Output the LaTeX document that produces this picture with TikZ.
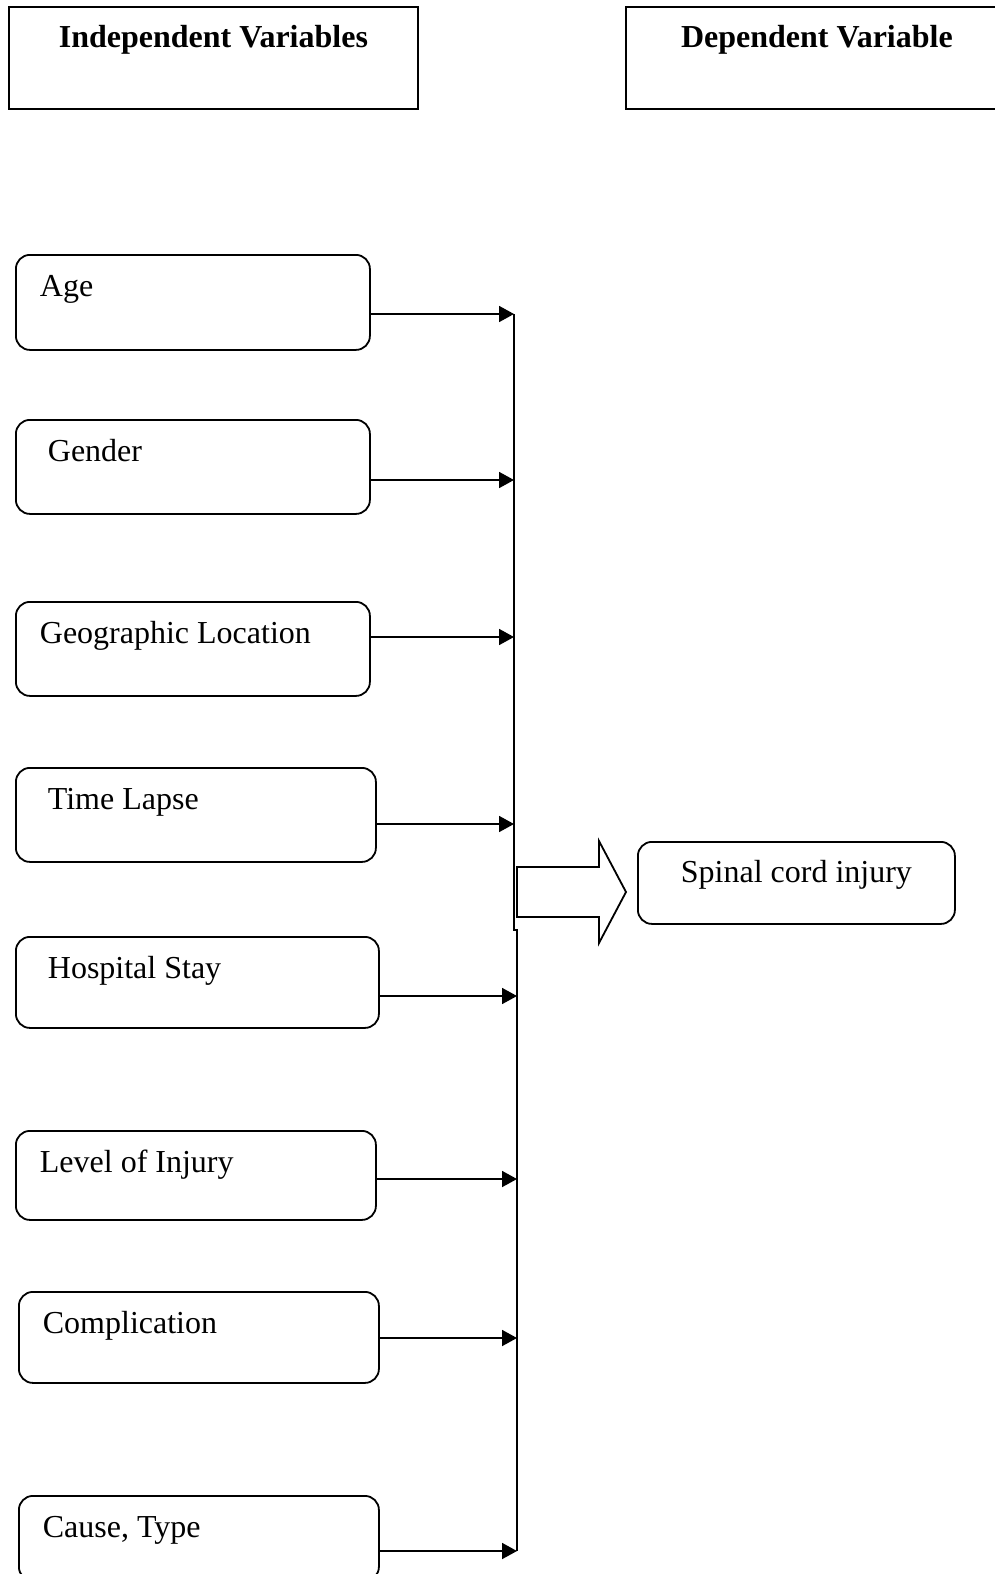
\documentclass[tikz,border=0pt]{standalone}
\usepackage{fontspec}
\setmainfont{Liberation Serif}
\usetikzlibrary{arrows.meta}

\begin{document}
\begin{tikzpicture}[x=0.5pt,y=-0.5pt,>={Triangle[length=7.5pt,width=8pt]},line width=0.9pt,
		font=\fontsize{16pt}{19pt}\selectfont,
		headbox/.style={rectangle,draw=black,anchor=north west,inner sep=0pt,text height=20.5pt,text depth=30.5pt},
		varbox/.style={rectangle,rounded corners=7pt,draw=black,anchor=north west,inner ysep=0pt,inner xsep=12pt,text height=21pt,
			execute at begin node={\spaceskip=0pt\xspaceskip=0pt\relax}},
		outbox/.style={rectangle,rounded corners=7pt,draw=black,anchor=north west,inner sep=0pt,text height=20.5pt,text depth=20.5pt}]
		\useasboundingbox (0,0) rectangle (995,1574);
		
		\node[headbox,minimum width=204.5pt] (indep) at (8,6)   {\textbf{Independent Variables}};
		\node[headbox,minimum width=191pt]   (dep)   at (625,6) {\textbf{Dependent Variable}};
		
		\node[varbox,text width=153pt,text depth=26.5pt] (age)   at (15,254)  {Age};
		\node[varbox,text width=153pt,text depth=26pt]   (gender) at (15,419) {\hspace*{4pt}Gender};
		\node[varbox,text width=153pt,text depth=26pt]   (geo)   at (15,601)  {Geographic Location};
		\node[varbox,text width=156pt,text depth=26pt]   (lapse) at (15,767)  {\hspace*{4pt}Time Lapse};
		\node[varbox,text width=157.5pt,text depth=24.5pt] (stay) at (15,936)  {\hspace*{4pt}Hospital Stay};
		\node[varbox,text width=156pt,text depth=23.5pt] (level) at (15,1130) {Level of Injury};
		\node[varbox,text width=156pt,text depth=24.5pt] (compl) at (18,1291) {Complication};
		\node[varbox,text width=156pt,text depth=21.5pt] (cause) at (18,1495) {Cause, Type};
		
		\node[outbox,minimum width=158.5pt] (sci) at (637,841) {Spinal cord injury};
		
		\coordinate (t1) at (514,314);
		\coordinate (t2) at (514,480);
		\coordinate (t3) at (514,637);
		\coordinate (t4) at (514,824);
		\coordinate (t5) at (517,996);
		\coordinate (t6) at (517,1179);
		\coordinate (t7) at (517,1338);
		\coordinate (t8) at (517,1551);
		\coordinate (jog1) at (514,930);
		\coordinate (jog2) at (517,930);
		
		\draw (t1) -- (jog1) -- (jog2) -- (t8);
		
		\path[->]
		(age.east |- t1)    edge (t1)
		(gender.east |- t2) edge (t2)
		(geo.east |- t3)    edge (t3)
		(lapse.east |- t4)  edge (t4)
		(stay.east |- t5)   edge (t5)
		(level.east |- t6)  edge (t6)
		(compl.east |- t7)  edge (t7)
		(cause.east |- t8)  edge (t8);
		
		\draw (517,867) -- (599,867) -- (599,841) -- (626,892) -- (599,943) -- (599,917) -- (517,917) -- cycle;
\end{tikzpicture}
\end{document}
